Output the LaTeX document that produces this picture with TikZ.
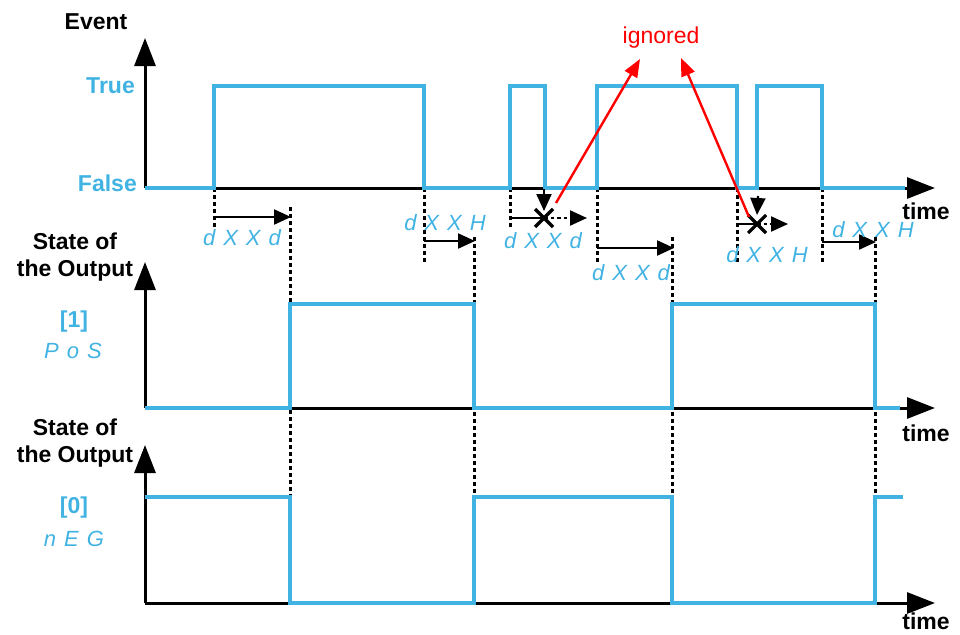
\documentclass[tikz,border=0pt]{standalone}
\usepackage{fontspec}
\setmainfont{Liberation Sans}
\usetikzlibrary{arrows.meta,positioning}
\definecolor{sigBlue}{RGB}{65,179,227}
\definecolor{noteRed}{RGB}{255,0,0}
\newcommand{\segcode}[4]{#1\hspace{8pt}#2\hspace{8pt}#3\hspace{8pt}#4}
\newcommand{\segthree}[3]{#1\hspace{8pt}#2\hspace{8pt}#3}

\begin{document}
\begin{tikzpicture}[x=1pt,y=-1pt,
  axis/.style={line width=3pt,-{Triangle[length=28pt,width=21pt]}},
  signal/.style={draw=sigBlue,line width=3.2pt},
  guide/.style={line width=3pt,dash pattern=on 4pt off 3pt},
  delay/.style={line width=2.2pt,-{Triangle[length=17pt,width=15pt]}},
  cancel/.style={line width=2.2pt,dash pattern=on 3.5pt off 3pt,-{Triangle[length=17pt,width=15pt]}},
  xmark/.style={line width=3.2pt},
  note/.style={line width=2.4pt,noteRed,-{Triangle[length=18pt,width=14pt]}},
  lbl/.style={font=\fontsize{23}{27}\selectfont\bfseries,align=center,inner sep=0pt},
  level/.style={lbl,text=sigBlue},
  seg/.style={font=\fontsize{22}{24}\selectfont\itshape,text=sigBlue,inner sep=0pt}
]
  \useasboundingbox (0,0) rectangle (960,634);

  % axes
  \coordinate (o1) at (145,188);
  \coordinate (o2) at (145,408);
  \coordinate (o3) at (145,603);
  \draw[axis] (o1) -- (145,38);
  \draw[axis] (o1) -- (935,188);
  \draw[axis] (o2) -- (145,262);
  \draw[axis] (o2) -- (935,408);
  \draw[axis] (o3) -- (145,445);
  \draw[axis] (o3) -- (935,603);

  % dotted guides
  \draw[guide] (214,188) -- (214,228);
  \draw[guide] (290,207) -- (290,497);
  \draw[guide] (424,188) -- (424,262);
  \draw[guide] (474,237) -- (474,497);
  \draw[guide] (510,188) -- (510,228);
  \draw[guide] (597,188) -- (597,262);
  \draw[guide] (672,237) -- (672,497);
  \draw[guide] (737,188) -- (737,262);
  \draw[guide] (822,188) -- (822,262);
  \draw[guide] (875,237) -- (875,497);

  % signals
  \draw[signal] (145,188) -- (214,188) -- (214,86) -- (424,86) -- (424,188)
    -- (510,188) -- (510,86) -- (545,86) -- (545,188) -- (597,188) -- (597,86)
    -- (737,86) -- (737,188) -- (757,188) -- (757,86) -- (822,86) -- (822,188)
    -- (905,188);
  \draw[signal] (145,408) -- (290,408) -- (290,304) -- (474,304) -- (474,408)
    -- (672,408) -- (672,304) -- (875,304) -- (875,408) -- (900,408);
  \draw[signal] (145,497) -- (290,497) -- (290,603) -- (474,603) -- (474,497)
    -- (672,497) -- (672,603) -- (875,603) -- (875,497) -- (903,497);

  % delays
  \coordinate (d1a) at (214,217); \coordinate (d1b) at (291,217);
  \coordinate (d2a) at (424,241); \coordinate (d2b) at (475,241);
  \coordinate (d3a) at (510,218); \coordinate (x3) at (544,218); \coordinate (d3b) at (587,218);
  \coordinate (d4a) at (597,248); \coordinate (d4b) at (674,248);
  \coordinate (d5a) at (737,224); \coordinate (x5) at (757,224); \coordinate (d5b) at (788,224);
  \coordinate (d6a) at (822,242); \coordinate (d6b) at (876,242);
  \draw[delay] (d1a) -- (d1b);
  \draw[delay] (d2a) -- (d2b);
  \draw[line width=2.2pt] (d3a) -- (x3);
  \draw[cancel] (x3) -- (d3b);
  \draw[delay] (d4a) -- (d4b);
  \draw[line width=2.2pt] (d5a) -- (x5);
  \draw[cancel] (x5) -- (d5b);
  \draw[delay] (d6a) -- (d6b);
  \draw[delay] (544,189) -- ([yshift=7pt]x3);
  \draw[delay] (758,196) -- ([yshift=9pt]x5);
  \foreach \c in {x3,x5}{
    \draw[xmark] ([shift={(-9,-9)}]\c) -- ([shift={(9,9)}]\c);
    \draw[xmark] ([shift={(-9,9)}]\c) -- ([shift={(9,-9)}]\c);
  }

  % ignored
  \node[font=\fontsize{23}{27}\selectfont,text=noteRed,inner sep=0pt] (ign) at (661,38) {ignored};
  \coordinate (ig1) at (556,203);
  \coordinate (ig2) at (749,217);
  \draw[note] (ig1) -- (640,59);
  \draw[note] (ig2) -- (681,58);

  % labels
  \node[lbl] (evt) at (96,22) {Event};
  \node[level,anchor=east] (true) at (135,86) {True};
  \node[level,anchor=east] (false) at (137,183) {False};
  \node[lbl] (st1) at (75,257) {State of\\the Output};
  \node[lbl] (st2) at (75,443) {State of\\the Output};
  \node[level] (one) at (74,322) {[1]};
  \node[seg] (pos) at (73,351) {\segthree{P}{o}{S}};
  \node[level] (zero) at (74,508) {[0]};
  \node[seg] (neg) at (74,539) {\segthree{n}{E}{G}};
  \node[lbl] (t1) at (926,211) {time};
  \node[lbl] (t2) at (926,433) {time};
  \node[lbl] (t3) at (926,621) {time};

  \node[seg] (s1) at (242,238) {\segcode{d}{X}{X}{d}};
  \node[seg] (s2) at (445,223) {\segcode{d}{X}{X}{H}};
  \node[seg] (s3) at (543,241) {\segcode{d}{X}{X}{d}};
  \node[seg] (s4) at (631,273) {\segcode{d}{X}{X}{d}};
  \node[seg] (s5) at (767,255) {\segcode{d}{X}{X}{H}};
  \node[seg] (s6) at (873,230) {\segcode{d}{X}{X}{H}};
\end{tikzpicture}
\end{document}
